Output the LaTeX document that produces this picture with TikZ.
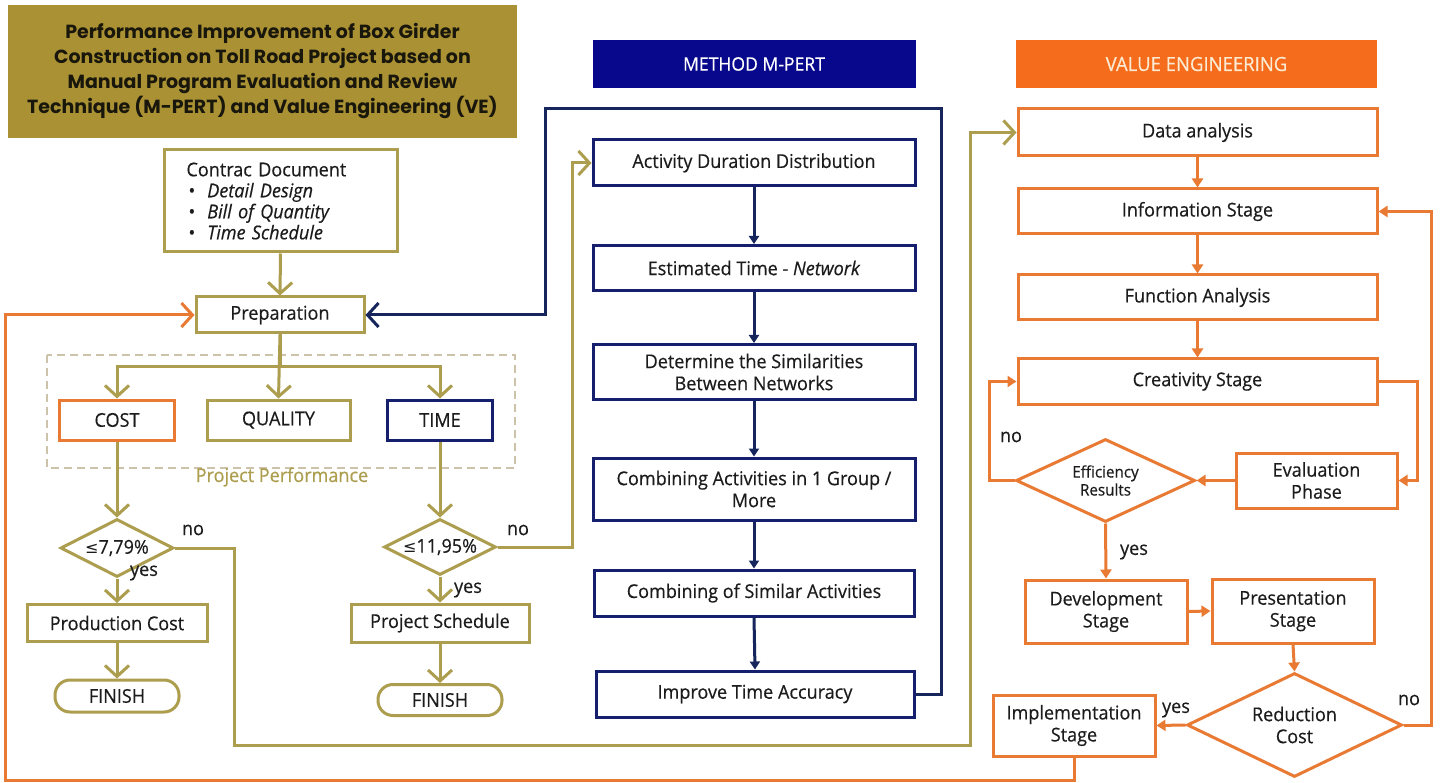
\documentclass[tikz,border=0pt]{standalone}
\usepackage{fontspec}
\setmainfont{Open Sans}[FakeStretch=0.95, FakeBold=0.4]
\newfontfamily\ttlfont{Poppins}
\newfontfamily\djv{DejaVu Sans}
\usetikzlibrary{arrows.meta,shapes.geometric}
\definecolor{olv}{RGB}{172,158,78}
\definecolor{ttl}{RGB}{170,146,52}
\definecolor{nvl}{RGB}{22,38,92}
\definecolor{nvb}{RGB}{22,30,110}
\definecolor{nvh}{RGB}{8,8,140}
\definecolor{org}{RGB}{232,122,52}
\definecolor{orh}{RGB}{245,108,28}
\definecolor{dsh}{RGB}{205,195,170}
\definecolor{txt}{RGB}{28,28,28}
\begin{document}
\begin{tikzpicture}[x=1pt,y=-1pt,
  every node/.style={font=\fontsize{19}{22}\selectfont, text=txt},
  base/.style={draw, line width=3pt, fill=white, inner sep=2pt, align=center},
  obox/.style={base, draw=olv},
  nbox/.style={base, draw=nvb},
  rbox/.style={base, draw=org},
  odia/.style={diamond, draw=olv, line width=3pt, fill=white, inner sep=0pt, aspect=2, align=center},
  rdia/.style={diamond, draw=org, line width=3pt, fill=white, inner sep=0pt, aspect=2, align=center},
  oarr/.style={draw=olv, line width=3pt, -{Straight Barb[length=11pt,width=24pt]}},
  narr/.style={draw=nvl, line width=3pt, -{Triangle[length=8pt,width=10pt]}},
  nbig/.style={draw=nvl, line width=3pt, -{Straight Barb[length=11pt,width=24pt]}},
  rarr/.style={draw=org, line width=3pt, -{Triangle[length=9pt,width=11pt]}},
  rbig/.style={draw=org, line width=3pt, -{Straight Barb[length=11pt,width=24pt]}},
  lbl/.style={font=\fontsize{19}{22}\selectfont, text=txt}
]
\useasboundingbox (0,0) rectangle (1440,783);
\fill[white] (0,0) rectangle (1440,783);

% title
\node[fill=ttl, minimum width=509pt, minimum height=133pt, inner sep=0pt, align=center,
      font=\ttlfont\bfseries\fontsize{19}{25}\selectfont, text={rgb,255:red,25;green,22;blue,12}] (title) at (262.5,71.5)
 {Performance Improvement of Box Girder\\Construction on Toll Road Project based on\\Manual Program Evaluation and Review\\Technique (M-PERT) and Value Engineering (VE)};

% dashed group
\draw[dsh, line width=1.5pt, dash pattern=on 8pt off 5pt] (47,355) rectangle (515,468);
\node[text=olv] (pp) at (282,477) {Project Performance};

% left column
\node[obox, minimum width=233pt, minimum height=102pt, text width=200pt, align=left,
      font=\fontsize{19}{21}\selectfont] (doc) at (280.5,201)
 {\hspace*{6pt}Contrac Document\\
  \hspace*{8pt}\textbullet\hspace{12pt}\textit{Detail Design}\\
  \hspace*{8pt}\textbullet\hspace{12pt}\textit{Bill of Quantity}\\
  \hspace*{8pt}\textbullet\hspace{12pt}\textit{Time Schedule}};
\node[obox, minimum width=168pt, minimum height=36pt] (prep) at (280,315) {Preparation};
\node[rbox, minimum width=115pt, minimum height=40pt] (cost) at (117,420) {COST};
\node[obox, minimum width=143pt, minimum height=40pt] (qual) at (278.5,420) {QUALITY};
\node[nbox, minimum width=105pt, minimum height=40pt] (time) at (440,420) {TIME};
\node[odia, minimum width=113pt, minimum height=58pt] (d1) at (117,548) {{\djv\fontsize{16}{18}\selectfont ≤}7,79\%};
\node[odia, minimum width=112pt, minimum height=56pt] (d2) at (440,547) {{\djv\fontsize{16}{18}\selectfont ≤}11,95\%};
\node[obox, minimum width=180pt, minimum height=37pt] (pc) at (117,623) {Production Cost};
\node[obox, minimum width=178pt, minimum height=38pt] (ps) at (440,623) {Project Schedule};
\node[obox, rounded corners=15pt, minimum width=124pt, minimum height=32pt] (f1) at (117,696) {FINISH};
\node[obox, rounded corners=15pt, minimum width=124pt, minimum height=31pt] (f2) at (440,700) {FINISH};

% middle column
\node[fill=nvh, minimum width=323pt, minimum height=48pt, inner sep=0pt, text=white,
      font=\fontsize{18.5}{20}\selectfont] (h1) at (754,64) {METHOD M-PERT};
\node[nbox, minimum width=322pt, minimum height=46pt] (add) at (754,163) {Activity Duration Distribution};
\node[nbox, minimum width=322pt, minimum height=45pt] (est) at (754,268) {Estimated Time - \textit{Network}};
\node[nbox, minimum width=322pt, minimum height=55pt] (det) at (754,372) {Determine the Similarities\\Between Networks};
\node[nbox, minimum width=322pt, minimum height=62pt] (cb1) at (754,489) {Combining Activities in 1 Group /\\More};
\node[nbox, minimum width=320pt, minimum height=46pt] (cb2) at (754,593) {Combining of Similar Activities};
\node[nbox, minimum width=318pt, minimum height=46pt] (imp) at (755,694) {Improve Time Accuracy};

% right column
\node[fill=orh, minimum width=361pt, minimum height=48pt, inner sep=0pt, text={rgb,255:red,252;green,235;blue,210},
      font=\fontsize{19.5}{21}\selectfont] (h2) at (1196.5,64) {VALUE ENGINEERING};
\node[rbox, minimum width=359pt, minimum height=47pt] (data) at (1197.5,132.5) {Data analysis};
\node[rbox, minimum width=359pt, minimum height=45pt] (info) at (1197.5,211.5) {Information Stage};
\node[rbox, minimum width=359pt, minimum height=45pt] (func) at (1197.5,297.5) {Function Analysis};
\node[rbox, minimum width=359pt, minimum height=45pt] (crea) at (1197.5,381.5) {Creativity Stage};
\node[rdia, minimum width=179pt, minimum height=83pt, font=\fontsize{16}{18}\selectfont] (eff) at (1105.5,480.5) {Efficiency\\Results};
\node[rbox, minimum width=161pt, minimum height=55pt] (eval) at (1316.5,480.5) {Evaluation\\Phase};
\node[rbox, minimum width=162pt, minimum height=63pt] (dev) at (1106,611.5) {Development\\Stage};
\node[rbox, minimum width=162pt, minimum height=64pt] (pres) at (1293,611) {Presentation\\Stage};
\node[rdia, minimum width=215pt, minimum height=104pt] (red) at (1294.5,725) {Reduction\\Cost};
\node[rbox, minimum width=162pt, minimum height=61pt] (impl) at (1074,725.5) {Implementation\\Stage};

% left connectors
\draw[oarr] (doc.south) -- (prep.north);
\coordinate (br) at (280,367);
\draw[oarr] (prep.south) -- (br) -| (cost.north);
\draw[oarr] (br) -| (time.north);
\draw[oarr] (prep.south) -- (qual.north);
\draw[oarr] (cost.south) -- (d1.north);
\draw[oarr] (time.south) -- (d2.north);
\draw[oarr] (d1.south) -- (pc.north);
\draw[oarr] (d2.south) -- (ps.north);
\draw[oarr] (pc.south) -- (f1.north);
\draw[oarr] (ps.south) -- (f2.north);
\draw[oarr] (d1.east) -- (234,548) -- (234,745) -- (970,745) |- (data.west);
\draw[oarr] (d2.east) -- (572,547) |- (add.west);
\node[lbl] at (193,530) {no};
\node[lbl] at (144,573) {yes};
\node[lbl] at (518,530) {no};
\node[lbl] at (468,590) {yes};

% middle connectors
\draw[narr] (add.south) -- (est.north);
\draw[narr] (est.south) -- (det.north);
\draw[narr] (det.south) -- (cb1.north);
\draw[narr] (cb1.south) -- (cb2.north);
\draw[narr] (cb2.south) -- (imp.north);
\draw[nbig] (imp.east) -| (941,109) -- (545,109) |- (prep.east);

% right connectors
\draw[rarr] (data.south) -- (info.north);
\draw[rarr] (info.south) -- (func.north);
\draw[rarr] (func.south) -- (crea.north);
\draw[rarr] (crea.east) -- ++(39,0) |- (eval.east);
\draw[rarr] (eval.west) -- (eff.east);
\draw[rarr] (eff.west) -- ++(-25,0) |- (crea.west);
\draw[rarr] (eff.south) -- (dev.north);
\draw[rarr] (dev.east) -- (pres.west);
\draw[rarr] (pres.south) -- (red.north);
\draw[rarr] (red.east) -- ++(28,0) |- (info.east);
\draw[rarr] (red.west) -- (impl.east);
\draw[rbig] (impl.south) -- (1074,780) -- (5,780) |- (prep.west);
\node[lbl] at (1011,437) {no};
\node[lbl] at (1134,552) {yes};
\node[lbl] at (1409,700) {no};
\node[lbl] at (1176,710) {yes};
\end{tikzpicture}
\end{document}
